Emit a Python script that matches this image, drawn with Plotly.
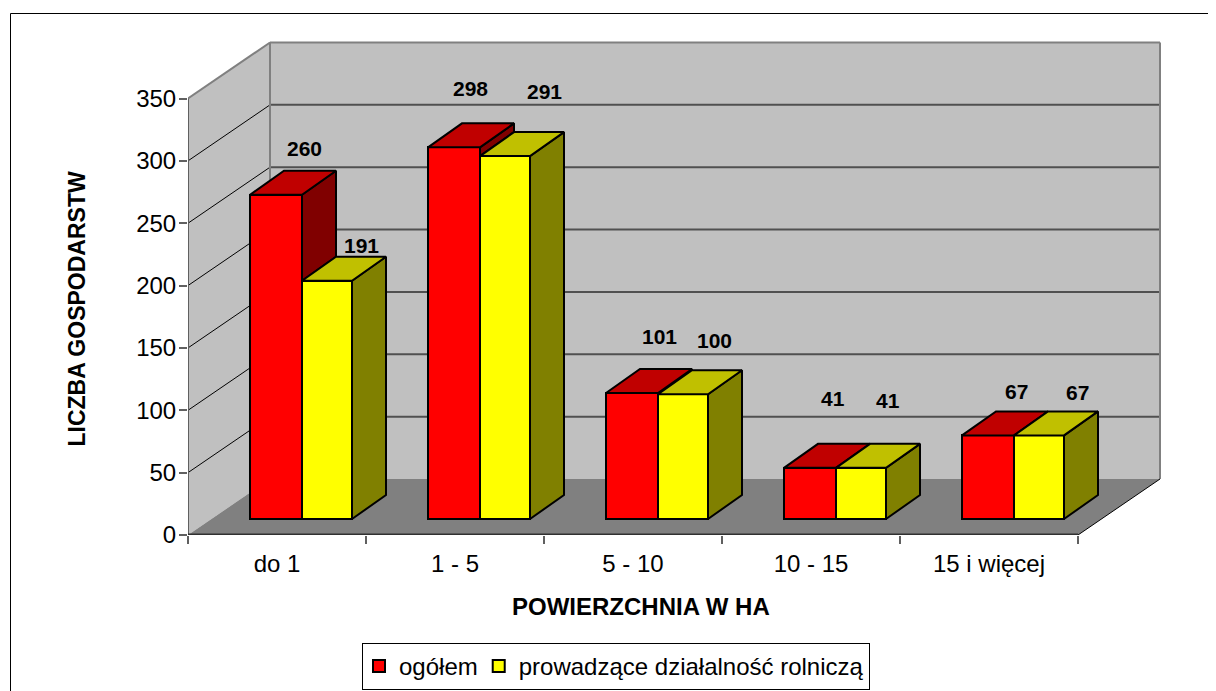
import plotly.graph_objects as go

categories = ["do 1", "1 - 5", "5 - 10", "10 - 15", "15 i więcej"]
ogolem = [260, 298, 101, 41, 67]
rolnicze = [191, 291, 100, 41, 67]
y_ticks = [0, 50, 100, 150, 200, 250, 300, 350]

# page geometry (px in the browser window)
OFF = 8
W, H = 1216 - OFF, 691 - OFF
L, R_PX, T, B_PX = 188, 1178, 30, 535
PX_X = 178.0
PX_Y = 436.5 / 350
ml, mt = L - OFF, T - OFF
mr, mb = W - (R_PX - OFF), H - (B_PX - OFF)

def paper_x(p):
    return (p - L) / (R_PX - L)
def paper_y(p):
    return (B_PX - p) / (B_PX - T)

WALL_DX, WALL_DY = 82 / PX_X, 56 / PX_Y
BAR_DX, BAR_DY = 34 / PX_X, 24 / PX_Y
BASE = 16 / PX_Y
RED_LEFT, RED_W = 62 / PX_X, 52 / PX_X
YEL_W = 50 / PX_X
n = len(categories)
FONT = "Liberation Sans"

red_c = [i + RED_LEFT + RED_W / 2 for i in range(n)]
yel_c = [i + RED_LEFT + RED_W + YEL_W / 2 for i in range(n)]

def face(pts_list):
    xs, ys = [], []
    for pts in pts_list:
        for a, b in pts + [pts[0]]:
            xs.append(a); ys.append(b)
        xs.append(None); ys.append(None)
    return xs, ys

def top_face(c, w, v):
    t = v + BASE
    return [(c - w/2, t), (c + w/2, t), (c + w/2 + BAR_DX, t + BAR_DY), (c - w/2 + BAR_DX, t + BAR_DY)]

def side_face(c, w, v, low):
    t, b = v + BASE, low + BASE
    x = c + w/2
    return [(x, t), (x + BAR_DX, t + BAR_DY), (x + BAR_DX, b + BAR_DY), (x, b)]

def poly_trace(pts_list, color):
    xs, ys = face(pts_list)
    return go.Scatter(x=xs, y=ys, mode="lines", fill="toself", fillcolor=color,
                      line=dict(color="black", width=2), showlegend=False, hoverinfo="skip")

fig = go.Figure()
fig.add_trace(go.Bar(x=red_c, y=ogolem, base=BASE, width=RED_W, name="ogółem",
                     marker=dict(color="#FF0000", line=dict(color="black", width=2))))
fig.add_trace(go.Bar(x=yel_c, y=rolnicze, base=BASE, width=YEL_W, name="prowadzące działalność rolniczą",
                     marker=dict(color="#FFFF00", line=dict(color="black", width=2))))
fig.add_trace(poly_trace([side_face(c, RED_W, v, min(v, u)) for c, v, u in zip(red_c, ogolem, rolnicze) if v > u], "#800000"))
fig.add_trace(poly_trace([top_face(c, RED_W, v) for c, v in zip(red_c, ogolem)], "#C00000"))
fig.add_trace(poly_trace([side_face(c, YEL_W, v, 0) for c, v in zip(yel_c, rolnicze)], "#808000"))
fig.add_trace(poly_trace([top_face(c, YEL_W, v) for c, v in zip(yel_c, rolnicze)], "#C0C000"))

shapes = []
def poly_shape(pts, fill, line=None, width=0):
    path = "M" + " L".join(f"{a},{b}" for a, b in pts) + " Z"
    shapes.append(dict(type="path", path=path, xref="x", yref="y", fillcolor=fill, layer="below",
                       line=dict(color=line or fill, width=width)))
def line_shape(x0, y0, x1, y1, color, width):
    shapes.append(dict(type="line", x0=x0, y0=y0, x1=x1, y1=y1, xref="x", yref="y", layer="below",
                       line=dict(color=color, width=width)))

top = y_ticks[-1]
poly_shape([(WALL_DX, WALL_DY), (n + WALL_DX, WALL_DY), (n + WALL_DX, top + WALL_DY), (WALL_DX, top + WALL_DY)], "#C0C0C0")
poly_shape([(0, 0), (WALL_DX, WALL_DY), (WALL_DX, top + WALL_DY), (0, top)], "#C0C0C0")
poly_shape([(0, 0), (n, 0), (n + WALL_DX, WALL_DY), (WALL_DX, WALL_DY)], "#808080")
for v in y_ticks[1:-1]:
    line_shape(WALL_DX, v + WALL_DY, n + WALL_DX, v + WALL_DY, "#505050", 2)
    line_shape(0, v, WALL_DX, v + WALL_DY, "black", 1)
line_shape(0, top, WALL_DX, top + WALL_DY, "#808080", 2)
line_shape(WALL_DX, WALL_DY, WALL_DX, top + WALL_DY, "#808080", 2)
line_shape(WALL_DX, top + WALL_DY, n + WALL_DX, top + WALL_DY, "#808080", 2)
line_shape(n + WALL_DX, WALL_DY, n + WALL_DX, top + WALL_DY, "#808080", 2)
line_shape(n, 0, n + WALL_DX, WALL_DY, "black", 1)
line_shape(0, 0, 0, top, "#606060", 2)
line_shape(0, 0, n, 0, "#303030", 3)

# outer frame, running off the page at right and bottom
shapes.append(dict(type="path", xref="paper", yref="paper", layer="below",
                   path=f"M{paper_x(1300)},{paper_y(13.5)} L{paper_x(10.5)},{paper_y(13.5)} L{paper_x(10.5)},{paper_y(750)}",
                   line=dict(color="black", width=1)))

annotations = []
red_shift = [(28, 46), (16, 59), (27, 57), (23, 69), (28, 44)]
yel_shift = [(34, 35), (39, 65), (31, 54), (27, 67), (38, 43)]
for cs, vals, shift in ((red_c, ogolem, red_shift), (yel_c, rolnicze, yel_shift)):
    for c, v, (sx, sy) in zip(cs, vals, shift):
        annotations.append(dict(x=c, y=v + BASE, xref="x", yref="y", text=f"<b>{v}</b>", showarrow=False,
                                xshift=sx, yshift=sy, xanchor="center", yanchor="middle",
                                font=dict(family=FONT, size=21, color="black")))
annotations.append(dict(x=paper_x(641), y=paper_y(606), xref="paper", yref="paper", showarrow=False,
                        xanchor="center", yanchor="middle",
                        text="<b>POWIERZCHNIA W HA</b>", font=dict(family=FONT, size=24, color="black")))
annotations.append(dict(x=paper_x(76), y=paper_y(449), xref="paper", yref="paper", showarrow=False, textangle=-90,
                        yanchor="bottom", xanchor="center",
                        text="<b>LICZBA GOSPODARSTW</b>", font=dict(family=FONT, size=23, color="black")))

fig.update_layout(
    width=W, height=H, autosize=False,
    margin=dict(l=ml, r=mr, t=mt, b=mb, pad=0),
    paper_bgcolor="white", plot_bgcolor="rgba(0,0,0,0)",
    barmode="overlay", bargap=0,
    font=dict(family=FONT, color="black"),
    shapes=shapes, annotations=annotations,
    xaxis=dict(range=[0, n + 100 / PX_X], tickvals=[i + 0.5 for i in range(n)], ticktext=categories,
               showgrid=False, zeroline=False, showline=False, ticks="", ticklabelstandoff=12,
               tickfont=dict(family=FONT, size=24, color="black"),
               minor=dict(tickvals=list(range(n + 1)), ticks="outside", ticklen=8, tickcolor="#606060", tickwidth=2, showgrid=False)),
    yaxis=dict(range=[0, (B_PX - T) / PX_Y], tickvals=y_ticks, ticks="outside", ticklen=8, tickcolor="#606060", tickwidth=2,
               showgrid=False, zeroline=False, showline=False, ticklabelstandoff=-2,
               tickfont=dict(family=FONT, size=24, color="black")),
    legend=dict(orientation="h", xref="container", yref="container",
                x=(362 - OFF) / W, y=1 - (643 - OFF) / H, xanchor="left", yanchor="top",
                bgcolor="white", bordercolor="black", borderwidth=1, indentation=-4,
                font=dict(family=FONT, size=24, color="black"), traceorder="normal"),
    showlegend=True,
)
fig.write_html("out.html", config=dict(displayModeBar=False))
